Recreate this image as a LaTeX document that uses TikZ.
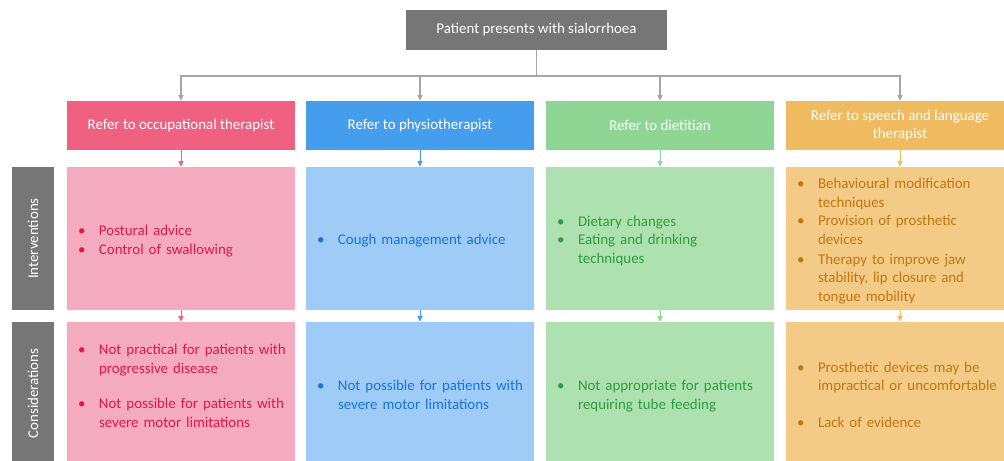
\documentclass[tikz,border=0pt]{standalone}
\usepackage{fontspec}
\setmainfont{Carlito}
\usetikzlibrary{arrows.meta}
\definecolor{boxgray}{HTML}{767676}
\definecolor{linegray}{HTML}{A6A6A6}
\definecolor{otdark}{HTML}{F06080}
\definecolor{otlight}{HTML}{F5ABBF}
\definecolor{ottext}{HTML}{E0174A}
\definecolor{ptdark}{HTML}{459DEE}
\definecolor{ptlight}{HTML}{9ECCF7}
\definecolor{pttext}{HTML}{1A73D9}
\definecolor{dtdark}{HTML}{8FD694}
\definecolor{dtlight}{HTML}{AEE1B0}
\definecolor{dttext}{HTML}{2E9E3C}
\definecolor{sldark}{HTML}{F0BA60}
\definecolor{sllight}{HTML}{F3CA86}
\definecolor{sltext}{HTML}{C0780E}
\newcommand{\bitem}[1]{\par\lineskip=0pt\noindent\makebox[0.525cm][l]{\textbullet}\parbox[t]{4.9cm}{\raggedright\strut #1\strut}}
\begin{document}
\begin{tikzpicture}
[
 >={Triangle[length=4pt,width=3.6pt]},
 font=\fontsize{10.6}{13.2}\selectfont,
 link/.style={draw=linegray,line width=0.85pt},
 top/.style={fill=boxgray,text=white,minimum width=6.525cm,minimum height=1cm},
 head/.style={text=white,align=center,minimum width=5.7cm,minimum height=1.225cm,inner sep=0pt,font=\fontsize{10.6}{12.8}\selectfont},
 body/.style={text width=5.15cm,inner xsep=0.275cm,inner ysep=0pt,minimum height=3.575cm,align=left},
 side/.style={fill=boxgray,text=white,rotate=90,minimum width=3.575cm,minimum height=1.05cm,inner sep=0pt}
]
\useasboundingbox (0,0) rectangle (25.1,-11.525);
\node (patient) [top] at (13.4125,-0.75) {Patient presents with sialorrhoea};
\coordinate (bus) at (13.4125,-1.9);
% referrals
\node (refer-ot) [head,fill=otdark] at (4.525,-3.1375) {Refer to occupational therapist};
\node (refer-pt) [head,fill=ptdark] at (10.5,-3.1375) {Refer to physiotherapist};
\node (refer-dt) [head,fill=dtdark] at (16.5,-3.1375) {Refer to dietitian};
\node (refer-sl) [head,fill=sldark] at (22.5,-3.1375) {Refer to speech and language\\therapist};
% interventions
\node (side-int) [side] at (0.825,-5.9625) {Interventions};
\node (int-ot) [body,fill=otlight,text=ottext] at (4.525,-5.9625)
 {\bitem{Postural advice}\bitem{Control of swallowing}};
\node (int-pt) [body,fill=ptlight,text=pttext] at (10.5,-5.9625)
 {\bitem{Cough management advice}};
\node (int-dt) [body,fill=dtlight,text=dttext] at (16.5,-5.9625)
 {\bitem{Dietary changes}\bitem{Eating and drinking\\techniques}};
\node (int-sl) [body,fill=sllight,text=sltext] at (22.5,-5.9625)
 {\bitem{Behavioural modification\\techniques}\bitem{Provision of prosthetic\\devices}\bitem{Therapy to improve jaw\\stability, lip closure and\\tongue mobility}};
% considerations
\node (side-con) [side] at (0.825,-9.8375) {Considerations};
\node (con-ot) [body,fill=otlight,text=ottext] at (4.525,-9.8375)
 {\bitem{Not practical for patients with\\progressive disease}\par\vspace{0.42cm}\bitem{Not possible for patients with\\severe motor limitations}\par\vspace{0.45cm}};
\node (con-pt) [body,fill=ptlight,text=pttext] at (10.5,-9.8375)
 {\bitem{Not possible for patients with\\severe motor limitations}};
\node (con-dt) [body,fill=dtlight,text=dttext] at (16.5,-9.8375)
 {\bitem{Not appropriate for patients\\requiring tube feeding}};
\node (con-sl) [body,fill=sllight,text=sltext] at (22.5,-9.8375)
 {\bitem{Prosthetic devices may be\\impractical or uncomfortable}\par\vspace{0.42cm}\bitem{Lack of evidence}};
% connectors
\draw[link] (patient.south) -- (bus);
\draw[link,->] (bus) -| (refer-ot.north);
\draw[link,->] (bus) -| (refer-pt.north);
\draw[link,->] (bus) -| (refer-dt.north);
\draw[link,->] (bus) -| (refer-sl.north);
\draw[->,otdark,line width=0.6pt] (refer-ot) -- (int-ot);
\draw[->,ptdark,line width=0.6pt] (refer-pt) -- (int-pt);
\draw[->,dtdark,line width=0.6pt] (refer-dt) -- (int-dt);
\draw[->,sldark,line width=0.6pt] (refer-sl) -- (int-sl);
\draw[->,otdark,line width=0.6pt] (int-ot) -- (con-ot);
\draw[->,ptdark,line width=0.6pt] (int-pt) -- (con-pt);
\draw[->,dtdark,line width=0.6pt] (int-dt) -- (con-dt);
\draw[->,sldark,line width=0.6pt] (int-sl) -- (con-sl);
\end{tikzpicture}
\end{document}
